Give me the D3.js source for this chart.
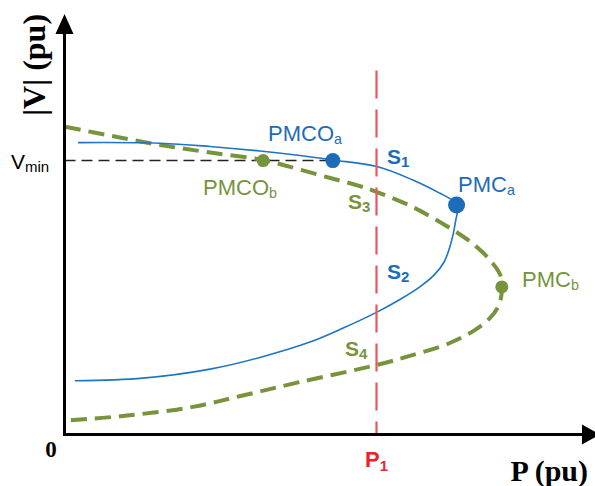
<!DOCTYPE html>
<html>
<head>
<meta charset="utf-8">
<script src="https://cdn.jsdelivr.net/npm/d3@7"></script>
<style>
  html, body { margin: 0; padding: 0; background: #fff; }
  svg { display: block; }
</style>
</head>
<body>
<svg id="chart" width="595" height="486"></svg>
<script>
// PV curves (P in pu, |V| in pu), listed along each curve from the high-voltage end
const curveA_P = [0.026, 0.184, 0.280, 0.376, 0.453, 0.516, 0.601, 0.670, 0.722, 0.745, 0.754, 0.756, 0.7525, 0.748, 0.741, 0.730, 0.711, 0.684, 0.645, 0.601, 0.536, 0.472, 0.376, 0.280, 0.151, 0.020];
const curveA_V = [0.973, 0.971, 0.960, 0.945, 0.930, 0.915, 0.893, 0.848, 0.804, 0.782, 0.765, 0.748, 0.715, 0.672, 0.625, 0.575, 0.532, 0.493, 0.450, 0.408, 0.355, 0.308, 0.257, 0.218, 0.188, 0.179];

const curveB_P = [0.001, 0.091, 0.184, 0.280, 0.382, 0.434, 0.511, 0.568, 0.601, 0.670, 0.747, 0.786, 0.818, 0.838, 0.841, 0.840, 0.834, 0.818, 0.789, 0.741, 0.664, 0.601, 0.453, 0.343, 0.247, 0.120, 0.001];
const curveB_V = [1.026, 0.995, 0.965, 0.940, 0.915, 0.892, 0.855, 0.828, 0.808, 0.758, 0.682, 0.635, 0.582, 0.532, 0.492, 0.462, 0.426, 0.388, 0.348, 0.305, 0.262, 0.232, 0.175, 0.130, 0.092, 0.063, 0.046];

// Marked operating points
const pointNames = ["PMCOa", "PMCOb", "PMCa", "PMCb"];
const pointP = [0.516, 0.382, 0.754, 0.841];
const pointV = [0.913, 0.913, 0.765, 0.492];

const vMin = 0.913;
const p1 = 0.6;
const p1Top = 1.213;

const xMax = 1.0, yMax = 1.4;

const svg = d3.select("#chart");
const x = d3.scaleLinear().domain([0, xMax]).range([64.5, 584.5]);
const y = d3.scaleLinear().domain([0, yMax]).range([434.5, 14.5]);

const BLUE = "#1f74c4", BLUE_TXT = "#1d6cb8", GREEN = "#77933c", RED = "#f0535d", RED_TXT = "#e8242b";
const SANS = "'Liberation Sans', Arial, sans-serif";
const SERIF = "'Liberation Serif', 'Times New Roman', serif";

const line = d3.line().x(d => x(d[0])).y(d => y(d[1])).curve(d3.curveCatmullRom.alpha(0.5));
const ptsA = curveA_P.map((p, i) => [p, curveA_V[i]]);
const ptsB = curveB_P.map((p, i) => [p, curveB_V[i]]);

// Vmin reference line
svg.append("line")
  .attr("x1", x(0)).attr("x2", x(pointP[0]))
  .attr("y1", y(vMin)).attr("y2", y(vMin))
  .attr("stroke", "#222").attr("stroke-width", 1.5)
  .attr("stroke-dasharray", "11,6");

// Curve b (dashed)
svg.append("path").datum(ptsB)
  .attr("d", line).attr("fill", "none")
  .attr("stroke", GREEN).attr("stroke-width", 4)
  .attr("stroke-dasharray", "16,8");

// Curve a (solid)
svg.append("path").datum(ptsA)
  .attr("d", line).attr("fill", "none")
  .attr("stroke", BLUE).attr("stroke-width", 1.6);

// Load level P1
svg.append("line")
  .attr("x1", x(p1)).attr("x2", x(p1))
  .attr("y1", y(p1Top)).attr("y2", y(0))
  .attr("stroke", RED).attr("stroke-width", 2.2)
  .attr("stroke-dasharray", "28,11");

// Axes with arrowheads
const axes = svg.append("g");
axes.append("line").attr("x1", x(0)).attr("x2", x(0))
  .attr("y1", y(0) + 1.5).attr("y2", 32)
  .attr("stroke", "#000").attr("stroke-width", 3);
axes.append("line").attr("x1", x(0) - 1.5).attr("x2", 584)
  .attr("y1", y(0)).attr("y2", y(0))
  .attr("stroke", "#000").attr("stroke-width", 3);
axes.append("path")
  .attr("d", `M${x(0)},14 L${x(0) - 9},34 L${x(0) + 9},34 Z`).attr("fill", "#000");
axes.append("path")
  .attr("d", `M600,${y(0)} L582,${y(0) - 10} L582,${y(0) + 10} Z`).attr("fill", "#000");

// Points
const ptColors = [BLUE_TXT, GREEN, BLUE_TXT, GREEN];
const ptR = [7.5, 6.5, 8.5, 6.5];
svg.append("g").selectAll("circle")
  .data(pointNames)
  .join("circle")
  .attr("cx", (d, i) => x(pointP[i]))
  .attr("cy", (d, i) => y(pointV[i]))
  .attr("r", (d, i) => ptR[i])
  .attr("fill", (d, i) => ptColors[i]);

// Text helper: main text with an optional subscript
function label(xp, yp, main, sub, opts) {
  const t = svg.append("text")
    .attr("x", xp).attr("y", yp)
    .attr("font-family", opts.family || SANS)
    .attr("font-size", opts.size)
    .attr("font-weight", opts.weight || "normal")
    .attr("fill", opts.color || "#000");
  t.append("tspan").text(main);
  if (sub) {
    t.append("tspan").attr("font-size", opts.subSize || opts.size * 0.65)
      .attr("dy", opts.subDy || opts.size * 0.15).text(sub);
  }
  return t;
}

label(268, 141, "PMCO", "a", { size: 22, color: BLUE_TXT });
label(203, 195, "PMCO", "b", { size: 22, color: GREEN });
label(458, 192, "PMC", "a", { size: 22, color: BLUE_TXT });
label(522, 287, "PMC", "b", { size: 22, color: GREEN });

label(387, 164, "S", "1", { size: 21, weight: "bold", color: BLUE_TXT, subSize: 15, subDy: 3 });
label(348, 209, "S", "3", { size: 21, weight: "bold", color: GREEN, subSize: 15, subDy: 3 });
label(387, 279, "S", "2", { size: 21, weight: "bold", color: BLUE_TXT, subSize: 15, subDy: 3 });
label(345, 356, "S", "4", { size: 21, weight: "bold", color: GREEN, subSize: 15, subDy: 3 });

label(11, 169, "V", "min", { size: 21, color: "#000", subSize: 15, subDy: 3 });
label(365, 467, "P", "1", { size: 22, weight: "bold", color: RED_TXT, subSize: 15, subDy: 4 });

svg.append("text").attr("x", 51).attr("y", 457)
  .attr("text-anchor", "middle")
  .attr("font-family", SERIF).attr("font-weight", "bold").attr("font-size", 23)
  .text("0");

svg.append("text").attr("x", 588).attr("y", 481)
  .attr("text-anchor", "end")
  .attr("font-family", SERIF).attr("font-weight", "bold").attr("font-size", 30)
  .text("P (pu)");

svg.append("text")
  .attr("transform", "translate(45,65) rotate(-90)")
  .attr("text-anchor", "middle")
  .attr("font-family", SERIF).attr("font-weight", "bold").attr("font-size", 32)
  .text("|V| (pu)");
</script>
</body>
</html>
